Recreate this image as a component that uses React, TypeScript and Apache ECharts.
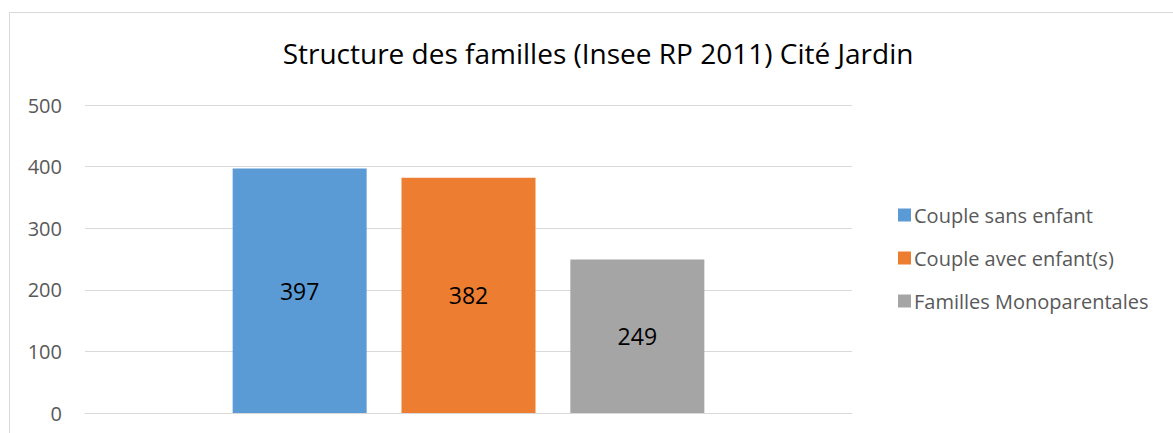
import React, { useEffect, useRef } from "react";
import * as echarts from "echarts";

const title = "Structure des familles (Insee RP 2011) Cité Jardin";
const categories = [""];
const seriesNames = ["Couple sans enfant", "Couple avec enfant(s)", "Familles Monoparentales"];
const seriesValues = [397, 382, 249];
const seriesColors = ["#5b9bd5", "#ed7d31", "#a5a5a5"];

const FONT = "'Open Sans', 'Noto Sans', sans-serif";

export default function App() {
  const ref = useRef<HTMLDivElement>(null);
  useEffect(() => {
    if (!ref.current) return;
    const chart = echarts.init(ref.current, undefined, { renderer: "svg" });
    chart.setOption({
      animation: false,
      backgroundColor: "#ffffff",
      textStyle: { fontFamily: FONT },
      title: {
        text: title,
        left: 593,
        top: 34,
        textAlign: "center",
        textStyle: { fontFamily: FONT, fontSize: 28, fontWeight: "normal", color: "#000000" },
      },
      graphic: [
        {
          type: "rect",
          shape: { x: 9.5, y: 12.5, width: 2000, height: 2000 },
          style: { fill: "none", stroke: "#d9d9d9", lineWidth: 1 },
          silent: true,
        },
      ],
      legend: {
        orient: "vertical",
        left: 893,
        top: 200,
        itemWidth: 13,
        itemHeight: 13,
        itemGap: 23,
        icon: "rect",
        data: seriesNames,
        textStyle: { fontFamily: FONT, fontSize: 20, color: "#595959", padding: [0, 0, 0, -2] },
      },
      grid: { left: 85, right: 321, top: 105, bottom: 20, containLabel: false },
      xAxis: {
        type: "category",
        data: categories,
        axisLine: { show: true, lineStyle: { color: "#d9d9d9", width: 1 } },
        axisTick: { show: false },
        axisLabel: { show: false },
      },
      yAxis: {
        type: "value",
        min: 0,
        max: 500,
        interval: 100,
        axisLine: { show: false },
        axisTick: { show: false },
        axisLabel: { fontFamily: FONT, fontSize: 20, color: "#595959", margin: 23 },
        splitLine: { lineStyle: { color: "#d9d9d9", width: 1 } },
      },
      series: seriesNames.map((name, i) => ({
        name,
        type: "bar",
        data: [seriesValues[i]],
        barWidth: 134,
        barGap: "26%",
        itemStyle: { color: seriesColors[i] },
        label: {
          show: true,
          position: "inside",
          fontFamily: FONT,
          fontSize: 23,
          color: "#000000",
        },
      })),
    });
    return () => chart.dispose();
  }, []);
  return (
    <div
      ref={ref}
      style={{ position: "absolute", left: 0, top: 0, width: 1173, height: 433 }}
    />
  );
}
